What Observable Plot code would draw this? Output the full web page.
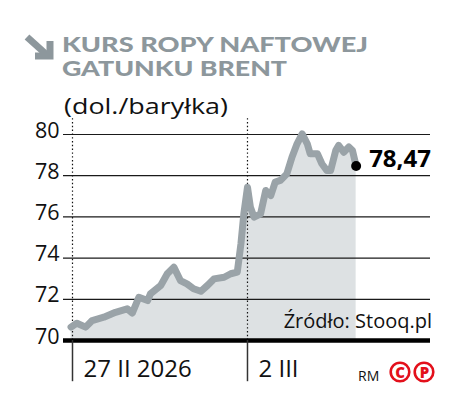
<!DOCTYPE html>
<html>
<head>
<meta charset="utf-8">
<script src="https://cdn.jsdelivr.net/npm/d3@7"></script>
<script src="https://cdn.jsdelivr.net/npm/@observablehq/plot@0.6"></script>
<style>
  body { margin: 0; background: #fff; }
  #wrap { position: relative; width: 468px; height: 401px; overflow: hidden; font-family: "Open Sans", sans-serif; }
  #wrap > svg { position: absolute; left: 0; top: 0; }
  #overlay { pointer-events: none; }
</style>
</head>
<body>
<div id="wrap">
  <div id="chart"></div>
  <svg id="overlay" width="468" height="401" style="position:absolute;left:0;top:0">
    <g stroke="#8d979c" stroke-width="7" fill="none" stroke-linecap="butt" stroke-linejoin="miter">
      <line x1="27" y1="37" x2="47" y2="55"/>
      <polyline points="35,56 50,56 50,41"/>
    </g>
    <text x="62" y="52" font-family="Lato" font-weight="900" font-size="21.5" fill="#8d979c" textLength="306" lengthAdjust="spacingAndGlyphs">KURS ROPY NAFTOWEJ</text>
    <text x="62" y="75.5" font-family="Lato" font-weight="900" font-size="21.5" fill="#8d979c" textLength="225" lengthAdjust="spacingAndGlyphs">GATUNKU BRENT</text>
    <text x="64" y="114" font-family="Open Sans" font-size="22" fill="#111" textLength="164" lengthAdjust="spacingAndGlyphs">(dol./baryłka)</text>
    <text x="432" y="328" text-anchor="end" font-family="Open Sans" font-size="20" fill="#111">Źródło: Stooq.pl</text>
    <text x="358" y="381" font-family="Open Sans" font-size="14" fill="#111">RM</text>
    <g fill="none" stroke="#e3101b" stroke-width="2.6">
      <circle cx="400" cy="372" r="9.3"/>
      <circle cx="424" cy="372" r="9.3"/>
    </g>
    <text x="400" y="377.5" text-anchor="middle" font-family="Open Sans" font-weight="800" font-size="15" fill="#e3101b">C</text>
    <text x="424.5" y="377.5" text-anchor="middle" font-family="Open Sans" font-weight="800" font-size="15" fill="#e3101b">P</text>
  </svg>
</div>
<script>
// time axis: hours of trading from start of 27 II 2026 (2 III starts at 24)
const times = [-0.2, 0.6, 1.8, 2.7, 4.3, 5.9, 7.5, 8.2, 9.1, 10.3, 10.7, 12.1, 13.0, 13.9, 14.8, 15.7, 16.6, 17.6, 18.5, 19.4, 20.8, 21.7, 22.6, 23.1, 23.5, 24.0, 24.4, 24.9, 25.8, 26.5, 27.2, 27.8, 28.5, 29.4, 30.1, 30.8, 31.5, 32.2, 32.6, 33.6, 34.2, 34.9, 35.4, 36.1, 36.5, 37.2, 37.9, 38.4, 38.9];
const prices = [70.65, 70.84, 70.65, 70.97, 71.13, 71.37, 71.54, 71.33, 72.10, 71.94, 72.27, 72.67, 73.24, 73.56, 72.91, 72.75, 72.51, 72.39, 72.67, 72.99, 73.07, 73.24, 73.32, 74.69, 76.15, 77.44, 76.47, 75.99, 76.15, 77.28, 77.04, 77.69, 77.77, 78.09, 78.90, 79.55, 80.03, 79.55, 79.06, 79.06, 78.58, 78.25, 78.25, 79.22, 79.47, 79.14, 79.39, 79.22, 78.47];
const gridValues = [70, 72, 74, 76, 78, 80];
const dateTickTimes = [0, 24];
const dateTickLabels = ["27 II 2026", "2 III"];

const data = times.map((t, i) => ({t, p: prices[i]}));
const dateTicks = dateTickTimes.map((t, i) => ({t, label: dateTickLabels[i]}));
const last = data[data.length - 1];

const chart = Plot.plot({
  width: 468,
  height: 401,
  marginLeft: 63,
  marginRight: 38,
  marginTop: 134,
  marginBottom: 61,
  x: {domain: [-1.234, 49.1], axis: null},
  y: {domain: [70, 80], axis: null},
  style: {fontFamily: "Open Sans", background: "transparent", color: "#111"},
  marks: [
    Plot.areaY(data, {x: "t", y1: 70, y2: "p", fill: "#dde1e3"}),
    Plot.ruleY(gridValues, {stroke: "#1a1a1a", strokeWidth: 1.2}),
    Plot.ruleX(dateTicks, {x: "t", y1: 70, y2: 80.8, stroke: "#111", strokeWidth: 1.2, strokeDasharray: "1.4,2.4"}),
    Plot.lineY(data, {x: "t", y: "p", stroke: "#9aa3a8", strokeWidth: 7, strokeLinejoin: "round", strokeLinecap: "round"}),
    Plot.ruleY([70], {stroke: "#000", strokeWidth: 4.5}),
    Plot.ruleX(dateTicks, {x: "t", y1: 70, y2: 68, stroke: "#333", strokeWidth: 1.5}),
    Plot.text(dateTicks, {x: "t", y: 68.6, text: "label", textAnchor: "start", dx: 11, fontSize: 24, fill: "#111"}),
    Plot.text(gridValues, {y: d => d, frameAnchor: "left", text: d => String(d), textAnchor: "end", dx: -4, lineAnchor: "bottom", dy: 3, fontSize: 21.5, fill: "#111"}),
    Plot.dot([last], {x: "t", y: "p", r: 5, fill: "#000"}),
    Plot.text([last], {x: "t", y: "p", text: d => d.p.toFixed(2).replace(".", ","), dx: 13, dy: -7, textAnchor: "start", fontWeight: "bold", fontSize: 24, fill: "#000"})
  ]
});
document.getElementById("chart").appendChild(chart);
</script>
</body>
</html>
